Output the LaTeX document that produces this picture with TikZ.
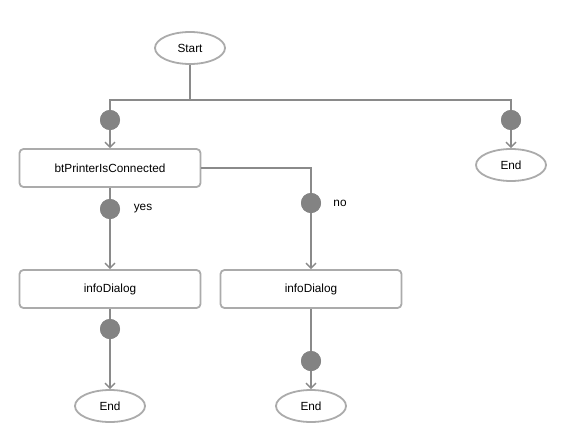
\documentclass[tikz,border=0pt]{standalone}
\usepackage{fontspec}
\setmainfont{Liberation Sans}
\usetikzlibrary{arrows.meta,shapes.geometric}
\definecolor{flowline}{HTML}{8A8A8A}
\definecolor{shapeline}{HTML}{ABABAB}
\definecolor{dotfill}{HTML}{838383}
\tikzset{
  flow/.style={draw=flowline, line width=1.6pt},
  arr/.style={flow, -{Straight Barb[length=5pt,width=10pt,line width=1.4pt]}},
  terminal/.style={ellipse, draw=shapeline, line width=1.8pt, fill=white,
    minimum width=70pt, minimum height=32pt, inner sep=0pt, font=\fontsize{11.8}{14}\selectfont},
  action/.style={rectangle, rounded corners=4pt, draw=shapeline, line width=1.8pt, fill=white,
    minimum width=181pt, minimum height=38pt, inner sep=0pt, font=\fontsize{11.8}{14}\selectfont},
  junction/.style={circle, fill=dotfill, minimum size=20pt, inner sep=0pt},
  lbl/.style={font=\fontsize{11.8}{14}\selectfont, inner sep=0pt}
}
\begin{document}
\begin{tikzpicture}[x=1pt,y=-1pt]
\useasboundingbox (0,0) rectangle (567,447);

% nodes
\node[terminal] (start) at (190,48) {Start};
\coordinate (split) at (190,100);
\node[junction] (j1) at (110,120) {};
\node[junction] (j2) at (511,120) {};
\node[terminal] (endR) at (511,165) {End};
\node[action] (check) at (110,168) {btPrinterIsConnected};
\coordinate (bend) at (311,168);
\node[junction] (jyes) at (110,209) {};
\node[lbl] (yes) at (143,209) {yes};
\node[junction] (jno) at (311,203) {};
\node[lbl] (no) at (340,203) {no};
\node[action] (info1) at (110,289) {infoDialog};
\node[action] (info2) at (311,289) {infoDialog};
\node[junction] (j3) at (110,329) {};
\node[junction] (j4) at (311,361) {};
\node[terminal] (end1) at (110,406) {End};
\node[terminal] (end2) at (311,406) {End};

% connectors
\draw[flow] (start.south) -- (split);
\draw[flow] (j1.center) |- (split) -| (j2.center);
\draw[arr] (j1) -- (check.north);
\draw[arr] (j2) -- (endR.north);
\draw[flow] (check.south) -- (jyes);
\draw[flow] (check.east) -- (bend) -- (jno);
\draw[arr] (jyes) -- (info1.north);
\draw[arr] (jno) -- (info2.north);
\draw[flow] (info1.south) -- (j3);
\draw[flow] (info2.south) -- (j4);
\draw[arr] (j3) -- (end1.north);
\draw[arr] (j4) -- (end2.north);

% dots on top of the lines
\foreach \n in {j1,j2,jyes,jno,j3,j4}
  \node[junction] at (\n) {};
\end{tikzpicture}
\end{document}
